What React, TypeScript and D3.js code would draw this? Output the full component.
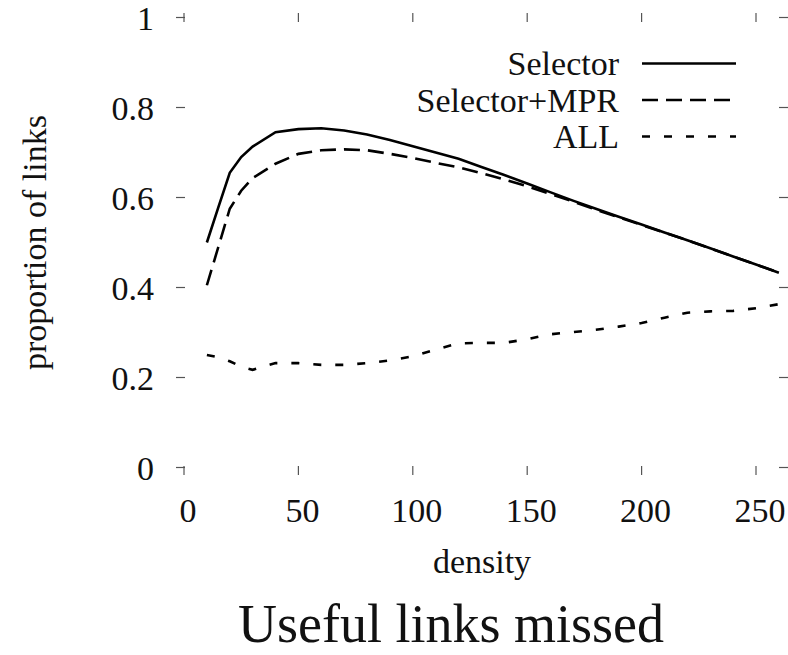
import React from "react";
import * as d3 from "d3";

// Network density values sampled along the x axis
const density = [10, 15, 20, 25, 30, 40, 50, 60, 70, 80, 90, 100, 110, 120, 130, 140, 150, 160, 170, 180, 190, 200, 210, 220, 230, 240, 250, 260];

// Proportion of useful links missed, per method
const selector = [0.5, 0.578, 0.655, 0.69, 0.713, 0.745, 0.752, 0.754, 0.749, 0.74, 0.728, 0.714, 0.7, 0.686, 0.668, 0.65, 0.631, 0.612, 0.593, 0.575, 0.557, 0.54, 0.522, 0.505, 0.487, 0.469, 0.451, 0.433];
const selectorMpr = [0.405, 0.49, 0.575, 0.615, 0.643, 0.675, 0.697, 0.705, 0.707, 0.705, 0.697, 0.688, 0.677, 0.667, 0.654, 0.64, 0.625, 0.608, 0.591, 0.573, 0.556, 0.539, 0.522, 0.505, 0.487, 0.469, 0.451, 0.433];
const allLinks = [0.25, 0.245, 0.236, 0.224, 0.217, 0.232, 0.232, 0.228, 0.228, 0.232, 0.238, 0.247, 0.262, 0.276, 0.277, 0.277, 0.285, 0.296, 0.301, 0.306, 0.313, 0.321, 0.333, 0.344, 0.347, 0.348, 0.354, 0.363];

const seriesNames = ["Selector", "Selector+MPR", "ALL"];
const seriesDashes = ["none", "16,8", "8,14"];

const xTicks = [0, 50, 100, 150, 200, 250];
const yTicks = [0, 0.2, 0.4, 0.6, 0.8, 1];
const yTickLabels = ["0", "0.2", "0.4", "0.6", "0.8", "1"];

const W = 788;
const H = 655;
const FONT = "'Liberation Serif', 'Times New Roman', Times, serif";

export default function App() {
  const x = d3.scaleLinear().domain([0, 250]).range([184, 756]);
  const y = d3.scaleLinear().domain([0, 1]).range([467.5, 17.5]);

  const left = 176;
  const right = 788;
  const top = 13;
  const bottom = 475;
  const tickLen = 9;

  const seriesValues = [selector, selectorMpr, allLinks];
  const line = d3
    .line<number>()
    .x((_, i) => x(density[i]))
    .y((d) => y(d))
    .curve(d3.curveLinear);

  const tickColor = "#555";

  return (
    <svg
      width={W}
      height={H}
      viewBox={`0 0 ${W} ${H}`}
      style={{ position: "absolute", left: 0, top: 0, background: "#fff" }}
      fontFamily={FONT}
    >
      <rect width={W} height={H} fill="#fff" />

      {/* y ticks, mirrored on both sides */}
      {yTicks.map((t, i) => (
        <g key={`yt${i}`}>
          <line x1={left} x2={left + tickLen} y1={y(t)} y2={y(t)} stroke={tickColor} strokeWidth={1.2} />
          <line x1={right - tickLen} x2={right} y1={y(t)} y2={y(t)} stroke={tickColor} strokeWidth={1.2} />
          <text x={154} y={y(t) + 12} fontSize={34} textAnchor="end" fill="#111">
            {yTickLabels[i]}
          </text>
        </g>
      ))}

      {/* x ticks, mirrored top and bottom */}
      {xTicks.map((t) => (
        <g key={`xt${t}`}>
          <line x1={x(t)} x2={x(t)} y1={bottom} y2={bottom - tickLen} stroke={tickColor} strokeWidth={1.2} />
          <line x1={x(t)} x2={x(t)} y1={top} y2={top + tickLen} stroke={tickColor} strokeWidth={1.2} />
          <text x={x(t) + 4} y={522} fontSize={34} textAnchor="middle" fill="#111">
            {t}
          </text>
        </g>
      ))}

      {/* series */}
      {seriesValues.map((vals, i) => (
        <path
          key={`s${i}`}
          d={line(vals) ?? ""}
          fill="none"
          stroke="#000"
          strokeWidth={2.6}
          strokeDasharray={seriesDashes[i]}
        />
      ))}

      {/* legend */}
      {seriesNames.map((name, i) => {
        const base = 75 + i * 36.5;
        return (
          <g key={`lg${i}`}>
            <text x={619} y={base} fontSize={34} textAnchor="end" fill="#111">
              {name}
            </text>
            <line
              x1={642}
              x2={736}
              y1={base - 11.5}
              y2={base - 11.5}
              stroke="#000"
              strokeWidth={2.6}
              strokeDasharray={seriesDashes[i]}
            />
          </g>
        );
      })}

      {/* axis titles */}
      <text x={482} y={573} fontSize={34} textAnchor="middle" fill="#111">
        density
      </text>
      <text
        transform={`translate(46,242.5) rotate(-90)`}
        fontSize={34}
        textAnchor="middle"
        fill="#111"
      >
        proportion of links
      </text>

      {/* figure caption */}
      <text x={451} y={642} fontSize={54} textAnchor="middle" fill="#111">
        Useful links missed
      </text>
    </svg>
  );
}
